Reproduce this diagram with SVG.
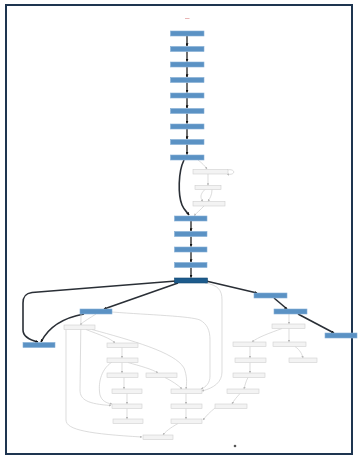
<svg xmlns="http://www.w3.org/2000/svg" width="358" height="457" viewBox="0 0 358 457">
  <defs>
    <style>
      .blue { fill: #5b92c4; stroke: #86b0d6; stroke-width: 0.6; }
      .dark { fill: #1d5b8c; stroke: #164a73; stroke-width: 0.6; }
      .light { fill: #f3f3f3; stroke: #cfcfcf; stroke-width: 0.6; }
      .e-main { fill: none; stroke: #222; stroke-width: 1.3; marker-end: url(#arrow-dark); }
      .e-thick { fill: none; stroke: #2a2f36; stroke-width: 1.6; marker-end: url(#arrow-dark); }
      .e-thin { fill: none; stroke: #cdcdcd; stroke-width: 0.7; marker-end: url(#arrow-light); }
    </style>
    <marker id="arrow-dark" viewBox="0 0 10 10" refX="9" refY="5" markerWidth="3" markerHeight="3" orient="auto" markerUnits="userSpaceOnUse">
      <path d="M0,0 L10,5 L0,10 z" fill="#111"/>
    </marker>
    <marker id="arrow-light" viewBox="0 0 10 10" refX="9" refY="5" markerWidth="2.5" markerHeight="2.5" orient="auto" markerUnits="userSpaceOnUse">
      <path d="M0,0 L10,5 L0,10 z" fill="#b8b8b8"/>
    </marker>
  </defs>

  <rect width="358" height="457" fill="#ffffff"/>
  <!-- outer frame -->
  <rect x="6" y="5" width="346" height="449" fill="none" stroke="#1e3550" stroke-width="2"/>

  <!-- connectors -->
  <g id="connectors">
    <!-- upper chain -->
    <path class="e-main" d="M187,36 V46"/>
    <path class="e-main" d="M187,51.5 V61.5"/>
    <path class="e-main" d="M187,67 V77"/>
    <path class="e-main" d="M187,82.5 V92.5"/>
    <path class="e-main" d="M187,98 V108"/>
    <path class="e-main" d="M187,113.5 V123.5"/>
    <path class="e-main" d="M187,129 V139"/>
    <path class="e-main" d="M187,144.5 V154.5"/>
    <!-- jump to lower chain -->
    <path class="e-thick" d="M184,160 C178,172 178,195 182,205 C184,210 187,212 189,215"/>
    <path class="e-thin" d="M198,160 C202,163 205,166 207,169"/>
    <path class="e-thin" d="M227,170 C236,168 236,176 227,174"/>
    <path class="e-thin" d="M208,174 V185.5"/>
    <path class="e-thin" d="M205,189.5 C200,194 200,198 203,201.5"/>
    <path class="e-thin" d="M212,189.5 C212,195 210,198 208,201.5"/>
    <path class="e-thin" d="M204,206 C200,210 197,213 194,215.5"/>
    <!-- lower chain -->
    <path class="e-main" d="M191,221 V231"/>
    <path class="e-main" d="M191,236.5 V246.5"/>
    <path class="e-main" d="M191,252 V262"/>
    <path class="e-main" d="M191,267.5 V277.5"/>
    <!-- from the hub node -->
    <path class="e-thick" d="M176,281 L32,292.5 C25,293.5 23,297 23,303 L23,330 C23,337 30,340 38,342"/>
    <path class="e-thick" d="M178,283 L104,309"/>
    <path class="e-thick" d="M84,314 C62,318 48,328 41,342"/>
    <path class="e-thick" d="M206,281 L257,293"/>
    <path class="e-thick" d="M274,298 L287,309"/>
    <path class="e-thick" d="M298,314 L334,333"/>

    <!-- left cluster -->
    <path class="e-thin" d="M96,314 C90,318 84,321 80,325"/>
    <path class="e-thin" d="M112,312 C150,315 190,316 200,320 C207,324 210,330 210,340 L210,376 C210,383 206,387 201,389"/>
    <path class="e-thin" d="M205,283 C218,285 222,290 222,300 L222,372 C222,382 214,388 202,391"/>
    <path class="e-thin" d="M81,314 L80,390 C80,400 88,404 111,405.5"/>
    <path class="e-thin" d="M66,329.5 L66,420 C66,430 90,434 142,437"/>
    <path class="e-thin" d="M86,329.5 C100,335 110,338 115,343"/>
    <path class="e-thin" d="M92,329.5 C130,340 175,352 184,368 C187,376 187,382 186,389"/>
    <path class="e-thin" d="M122,347.5 V358"/>
    <path class="e-thin" d="M122,362.5 V373"/>
    <path class="e-thin" d="M128,362.5 C140,366 152,369 158,373"/>
    <path class="e-thin" d="M112,362 C100,370 98,385 100,395 C102,401 106,403 112,404"/>
    <path class="e-thin" d="M124,377.5 V389"/>
    <path class="e-thin" d="M165,377.5 C172,381 178,385 182,389"/>
    <path class="e-thin" d="M127,393.5 V404"/>
    <path class="e-thin" d="M186,393.5 V404"/>
    <path class="e-thin" d="M127,408.5 V419"/>
    <path class="e-thin" d="M186,408.5 V419"/>
    <path class="e-thin" d="M215,408 C210,412 206,416 203,420"/>
    <path class="e-thin" d="M178,423.5 C170,428 165,432 163,435"/>

    <!-- right cluster -->
    <path class="e-thin" d="M289,314 V324"/>
    <path class="e-thin" d="M282,328.5 C270,333 258,337 252,342"/>
    <path class="e-thin" d="M289,328.5 V342"/>
    <path class="e-thin" d="M250,346.5 V358"/>
    <path class="e-thin" d="M295,346.5 C300,350 302,354 303,358"/>
    <path class="e-thin" d="M250,362.5 V373"/>
    <path class="e-thin" d="M248,377.5 C246,381 245,385 244,389"/>
    <path class="e-thin" d="M240,393.5 C237,397 234,400 232,404"/>
  </g>

  <!-- small mark above the chain -->
  <g id="n-start">
    <path d="M185,18.5 H189.5" stroke="#e2a2a2" stroke-width="0.8"/>
  </g>

  <!-- upper chain nodes -->
  <g id="n-a1"><rect class="blue" x="170.5" y="31" width="33.5" height="5"/></g>
  <g id="n-a2"><rect class="blue" x="170.5" y="46.5" width="33.5" height="5"/></g>
  <g id="n-a3"><rect class="blue" x="170.5" y="62" width="33.5" height="5"/></g>
  <g id="n-a4"><rect class="blue" x="170.5" y="77.5" width="33.5" height="5"/></g>
  <g id="n-a5"><rect class="blue" x="170.5" y="93" width="33.5" height="5"/></g>
  <g id="n-a6"><rect class="blue" x="170.5" y="108.5" width="33.5" height="5"/></g>
  <g id="n-a7"><rect class="blue" x="170.5" y="124" width="33.5" height="5"/></g>
  <g id="n-a8"><rect class="blue" x="170.5" y="139.5" width="33.5" height="5"/></g>
  <g id="n-a9"><rect class="blue" x="170.5" y="155" width="33.5" height="5"/></g>

  <!-- side group -->
  <g id="n-s1"><rect class="light" x="193" y="169.5" width="35" height="4.5"/></g>
  <g id="n-s2"><rect class="light" x="195" y="185.5" width="26" height="4"/></g>
  <g id="n-s3"><rect class="light" x="193" y="201.5" width="32" height="4.5"/></g>

  <!-- lower chain nodes -->
  <g id="n-b1"><rect class="blue" x="174.5" y="216" width="32.5" height="5"/></g>
  <g id="n-b2"><rect class="blue" x="174.5" y="231.5" width="32.5" height="5"/></g>
  <g id="n-b3"><rect class="blue" x="174.5" y="247" width="32.5" height="5"/></g>
  <g id="n-b4"><rect class="blue" x="174.5" y="262.5" width="32.5" height="5"/></g>
  <g id="n-hub"><rect class="dark" x="174.5" y="278" width="33" height="5"/></g>

  <!-- second level -->
  <g id="n-left"><rect class="blue" x="23" y="342.5" width="32" height="5"/></g>
  <g id="n-mid"><rect class="blue" x="80" y="309" width="32" height="5"/></g>
  <g id="n-r1"><rect class="blue" x="254" y="293" width="33" height="5"/></g>
  <g id="n-r2"><rect class="blue" x="274" y="309" width="33" height="5"/></g>
  <g id="n-r3"><rect class="blue" x="325" y="333" width="32" height="5"/></g>

  <!-- left cluster nodes -->
  <g id="n-l1"><rect class="light" x="64" y="325" width="31" height="4.5"/></g>
  <g id="n-l2"><rect class="light" x="107" y="343" width="31" height="4.5"/></g>
  <g id="n-l3"><rect class="light" x="107" y="358" width="31" height="4.5"/></g>
  <g id="n-l4"><rect class="light" x="107" y="373" width="31" height="4.5"/></g>
  <g id="n-l5"><rect class="light" x="146" y="373" width="31" height="4.5"/></g>
  <g id="n-l6"><rect class="light" x="112" y="389" width="30" height="4.5"/></g>
  <g id="n-l7"><rect class="light" x="171" y="389" width="31" height="4.5"/></g>
  <g id="n-l8"><rect class="light" x="112" y="404" width="30" height="4.5"/></g>
  <g id="n-l9"><rect class="light" x="171" y="404" width="31" height="4.5"/></g>
  <g id="n-l10"><rect class="light" x="113" y="419" width="30" height="4.5"/></g>
  <g id="n-l11"><rect class="light" x="171" y="419" width="31" height="4.5"/></g>
  <g id="n-l12"><rect class="light" x="143" y="435" width="30" height="4.5"/></g>

  <!-- right cluster nodes -->
  <g id="n-q1"><rect class="light" x="272" y="324" width="33" height="4.5"/></g>
  <g id="n-q2"><rect class="light" x="233" y="342" width="33" height="4.5"/></g>
  <g id="n-q3"><rect class="light" x="273" y="342" width="33" height="4.5"/></g>
  <g id="n-q4"><rect class="light" x="235" y="358" width="31" height="4.5"/></g>
  <g id="n-q5"><rect class="light" x="289" y="358" width="28" height="4.5"/></g>
  <g id="n-q6"><rect class="light" x="233" y="373" width="32" height="4.5"/></g>
  <g id="n-q7"><rect class="light" x="227" y="389" width="32" height="4.5"/></g>
  <g id="n-q8"><rect class="light" x="215" y="404" width="32" height="4.5"/></g>

  <!-- end point -->
  <g id="n-end"><circle cx="235" cy="446" r="1.3" fill="#555"/></g>
</svg>
